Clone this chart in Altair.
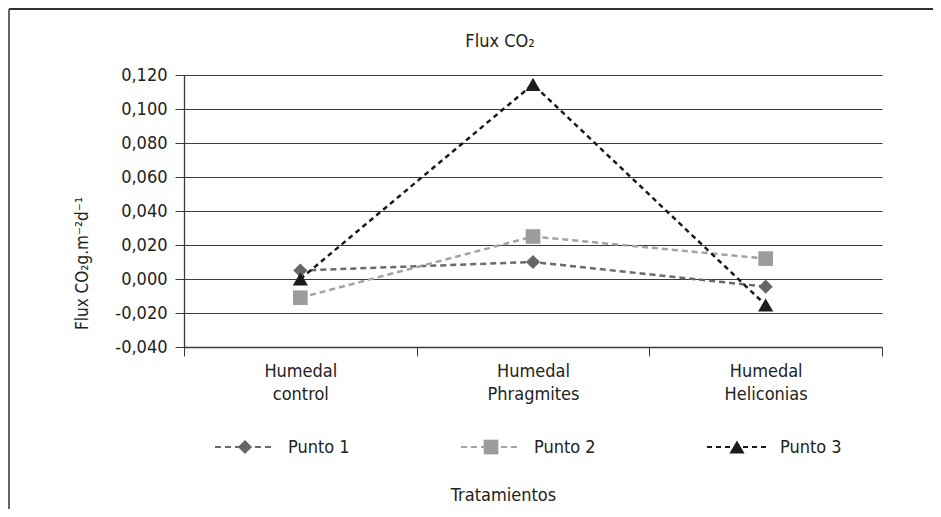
import altair as alt
import pandas as pd

# ---- data ----
tratamientos = ["Humedal control", "Humedal Phragmites", "Humedal Heliconias"]
series = ["Punto 1", "Punto 2", "Punto 3"]
punto1 = [0.005, 0.010, -0.0045]
punto2 = [-0.011, 0.025, 0.012]
punto3 = [0.000, 0.1145, -0.0153]
y_ticks = [-0.04, -0.02, 0.0, 0.02, 0.04, 0.06, 0.08, 0.10, 0.12]

# ---- styles ----
FONT = "DejaVu Sans Condensed, Liberation Sans Narrow, sans-serif"
FS = 18
line_colors = ["#6a6a6a", "#a3a3a3", "#1a1a1a"]
point_colors = ["#666666", "#9c9c9c", "#1c1c1c"]
shapes = ["diamond", "square", "triangle-up"]
dashes = [[6, 4], [6, 4], [5, 4]]
TXT = "#222222"
AX = "#3a3a3a"

rows = []
for s, vals in zip(series, [punto1, punto2, punto3]):
    for t, v in zip(tratamientos, vals):
        rows.append({"Tratamiento": t, "serie": s, "flux": v})
df = pd.DataFrame(rows)
leg = pd.DataFrame({"serie": series})
frame = pd.DataFrame({"k": [0]})

x_enc = alt.X(
    "Tratamiento:N",
    sort=tratamientos,
    bandPosition=0.5,
    scale=alt.Scale(type="band", domain=tratamientos, paddingInner=0, paddingOuter=0),
    axis=alt.Axis(
        title="Tratamientos",
        labelExpr="split(datum.label, ' ')",
        labelAngle=0,
        labelFontSize=FS,
        labelLineHeight=23,
        labelPadding=6,
        labelColor=TXT,
        tickBand="extent",
        tickSize=9,
        tickColor=AX,
        domainColor=AX,
        domainWidth=1.3,
        grid=False,
        titleFontSize=FS,
        titleFontWeight="normal",
        titleColor=TXT,
        titleX=319,
        titleY=153,
        titleBaseline="alphabetic",
    ),
)
y_enc = alt.Y(
    "flux:Q",
    scale=alt.Scale(domain=[-0.04, 0.12], nice=False, zero=False),
    axis=alt.Axis(
        title="Flux CO₂g.m⁻²d⁻¹",
        values=y_ticks,
        tickCount=9,
        labelOverlap=False,
        labelExpr="replace(replace(format(datum.value, '.3f'), '.', ','), '−', '-')",
        labelFontSize=FS,
        labelPadding=8,
        labelColor=TXT,
        tickSize=9,
        tickColor=AX,
        domainColor=AX,
        domainWidth=1.3,
        grid=True,
        gridColor=AX,
        gridWidth=1.2,
        titleFontSize=17,
        titleFontWeight="normal",
        titleColor=TXT,
        titleX=-102,
        titleY=188,
        titleAngle=270,
        titleBaseline="middle",
    ),
)

color_line = alt.Color("serie:N", scale=alt.Scale(domain=series, range=line_colors), legend=None)
color_pt = alt.Fill("serie:N", scale=alt.Scale(domain=series, range=point_colors), legend=None)
dash_enc = alt.StrokeDash("serie:N", scale=alt.Scale(domain=series, range=dashes), legend=None)
shape_enc = alt.Shape("serie:N", scale=alt.Scale(domain=series, range=shapes), legend=None)
size_enc = alt.Size("serie:N", scale=alt.Scale(domain=series, range=[200, 230, 200]), legend=None)
sw_enc = alt.StrokeWidth("serie:N", scale=alt.Scale(domain=series, range=[2.5, 2.5, 3]), legend=None)

lines = alt.Chart(df).mark_line().encode(
    x=x_enc, y=y_enc, color=color_line, strokeDash=dash_enc, strokeWidth=sw_enc, detail="serie:N"
)
points = alt.Chart(df).mark_point(filled=True, opacity=1, strokeWidth=0).encode(
    x=x_enc, y="flux:Q", fill=color_pt, shape=shape_enc, size=size_enc
)
main = alt.layer(lines, points)

# ---- manual legend (dashed line + marker + label) ----
leg_x = alt.X("serie:N", scale=alt.Scale(type="point", domain=series, range=[61, 553], padding=0), axis=None)
leg_rule = alt.Chart(leg).mark_rule(strokeWidth=2.2, xOffset=-30, x2Offset=30).encode(
    x=leg_x, x2="serie:N",
    y=alt.value(372), color=color_line,
    strokeDash=alt.StrokeDash("serie:N", scale=alt.Scale(domain=series, range=[[5, 4], [5, 4], [5, 4]]), legend=None)
)
leg_pt = alt.Chart(leg).mark_point(filled=True, opacity=1, strokeWidth=0).encode(
    x=leg_x, y=alt.value(372), fill=color_pt, shape=shape_enc,
    size=alt.Size("serie:N", scale=alt.Scale(domain=series, range=[190, 160, 180]), legend=None)
)
leg_txt = alt.Chart(leg).mark_text(align="left", baseline="middle", dx=43, fontSize=FS, color=TXT).encode(
    x=leg_x, y=alt.value(373), text="serie:N"
)
legend_layer = alt.layer(leg_rule, leg_pt, leg_txt)

# ---- outer frame (top and left edges) ----
top_edge = alt.Chart(frame).mark_rule(color="#333333", strokeWidth=2).encode(
    x=alt.value(-175), x2=alt.value(760), y=alt.value(-66)
)
left_edge = alt.Chart(frame).mark_rule(color="#666666", strokeWidth=2).encode(
    x=alt.value(-175), y=alt.value(-66), y2=alt.value(440)
)

chart = (
    alt.layer(main, legend_layer, top_edge, left_edge)
    .resolve_scale(x="independent")
    .properties(
        width=698,
        height=272,
        title=alt.Title("Flux CO₂", fontSize=FS, fontWeight="normal", color=TXT, frame="group",
                        anchor="middle", dx=-33, dy=85, offset=28, baseline="alphabetic"),
        autosize=alt.AutoSizeParams(type="none"),
        padding={"left": 176, "top": 67, "right": 51, "bottom": 162},
    )
    .configure(font=FONT)
    .configure_view(stroke=None)
)

chart.save("out.html", embed_options={"renderer": "svg", "actions": False})
